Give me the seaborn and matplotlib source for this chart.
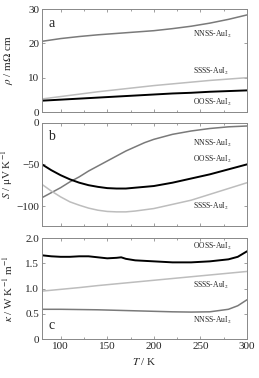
import numpy as np
import pandas as pd
import matplotlib
matplotlib.use("Agg")
import matplotlib.pyplot as plt
import seaborn as sns
from matplotlib.ticker import MultipleLocator

# temperature grid (K)
T = [80, 100, 120, 140, 160, 180, 200, 220, 240, 260, 280, 300]
T_s = [80, 90, 100, 110, 120, 130, 140, 150, 160, 170, 180, 190, 200,
       210, 220, 230, 240, 250, 260, 270, 280, 290, 300]

# a: resistivity (mOhm cm)
rho_nnss = [20.6, 21.4, 22.0, 22.5, 22.9, 23.3, 23.7, 24.3, 25.0, 25.9, 27.0, 28.3]
rho_ssss = [3.8, 4.5, 5.2, 5.9, 6.5, 7.1, 7.7, 8.2, 8.7, 9.2, 9.6, 10.0]
rho_ooss = [3.3, 3.6, 3.9, 4.2, 4.5, 4.8, 5.1, 5.4, 5.6, 5.9, 6.1, 6.3]

# b: thermopower (uV/K)
S_nnss = [-90, -84, -78, -71, -65, -58, -52, -46, -40, -34, -29, -24, -20,
          -17, -14, -12, -10, -8.5, -7, -6, -5, -4.5, -4]
S_ooss = [-50, -57, -63, -68, -72, -75, -77, -78.5, -79, -79, -78, -77, -76,
          -74, -72, -69.5, -67, -64.5, -62, -59, -56, -53, -50]
S_ssss = [-74, -82, -89, -95, -99, -102.5, -105, -106.5, -107, -107, -106, -104.5, -103,
          -100.5, -98, -95.5, -93, -89.5, -86, -82.5, -79, -75.5, -72]

# c: thermal conductivity (W/K/m)
T_k = [80, 90, 100, 110, 120, 130, 140, 150, 160, 165, 170, 180, 200, 220, 240, 260, 280, 290, 300]
k_ooss = [1.66, 1.64, 1.63, 1.63, 1.64, 1.64, 1.62, 1.60, 1.61, 1.62, 1.59, 1.56, 1.54, 1.52, 1.52, 1.54, 1.58, 1.63, 1.74]
k_ssss = [0.95, 0.985, 1.02, 1.06, 1.095, 1.13, 1.165, 1.20, 1.235, 1.27, 1.305, 1.34]
T_kn = [80, 100, 120, 140, 160, 180, 200, 220, 240, 260, 280, 290, 300]
k_nnss = [0.59, 0.59, 0.585, 0.58, 0.57, 0.56, 0.55, 0.54, 0.535, 0.54, 0.59, 0.66, 0.78]

sns.set_style("ticks")
plt.rcParams['font.family'] = ['Liberation Serif', 'DejaVu Serif']
plt.rcParams['mathtext.fontset'] = 'stix'

c_nnss = "#7a7a7a"
c_ssss = "#bdbdbd"
c_ooss = "#000000"

fig = plt.figure(figsize=(2.59, 3.78), dpi=100)
axa = fig.add_axes([0.162, 0.7037, 0.792, 0.2723])
axb = fig.add_axes([0.162, 0.402, 0.792, 0.2735])
axc = fig.add_axes([0.162, 0.103, 0.792, 0.267])

# panel a
sns.lineplot(x=T, y=rho_nnss, color=c_nnss, lw=1.1, ax=axa)
sns.lineplot(x=T, y=rho_ssss, color=c_ssss, lw=1.1, ax=axa)
sns.lineplot(x=T, y=rho_ooss, color=c_ooss, lw=1.4, ax=axa)
axa.set_ylim(0, 30)
axa.set_yticks([0, 10, 20, 30])
axa.set_ylabel(r"$\rho$ / m$\Omega$ cm")
axa.text(242, 22.7, r"NNSS-AuI$_2$", fontsize=5.5, va="center")
axa.text(242, 11.7, r"SSSS-AuI$_2$", fontsize=5.5, va="center")
axa.text(242, 2.9, r"OOSS-AuI$_2$", fontsize=5.5, va="center")
axa.text(0.03, 0.83, "a", transform=axa.transAxes, fontsize=10)

# panel b
sns.lineplot(x=T_s, y=S_nnss, color=c_nnss, lw=1.1, ax=axb)
sns.lineplot(x=T_s, y=S_ssss, color=c_ssss, lw=1.1, ax=axb)
sns.lineplot(x=T_s, y=S_ooss, color=c_ooss, lw=1.4, ax=axb)
axb.set_ylim(-124, 0)
axb.set_yticks([-100, -50, 0])
axb.set_ylabel(r"$S$ / μV K$^{-1}$")
axb.text(242, -25, r"NNSS-AuI$_2$", fontsize=5.5, va="center")
axb.text(242, -44.6, r"OOSS-AuI$_2$", fontsize=5.5, va="center")
axb.text(242, -101, r"SSSS-AuI$_2$", fontsize=5.5, va="center")
axb.text(0.03, 0.83, "b", transform=axb.transAxes, fontsize=10)

# panel c
sns.lineplot(x=T_k, y=k_ooss, color=c_ooss, lw=1.4, ax=axc)
sns.lineplot(x=T, y=k_ssss, color=c_ssss, lw=1.1, ax=axc)
sns.lineplot(x=T_kn, y=k_nnss, color=c_nnss, lw=1.1, ax=axc)
axc.set_ylim(0, 2.0)
axc.set_yticks([0, 0.5, 1.0, 1.5, 2.0])
axc.set_yticklabels(["0", "0.5", "1.0", "1.5", "2.0"])
axc.set_ylabel(r"$\kappa$ / W K$^{-1}$ m$^{-1}$")
axc.set_xlabel(r"$T$ / K")
axc.text(242, 1.83, r"OOSS-AuI$_2$", fontsize=5.5, va="center")
axc.text(242, 1.07, r"SSSS-AuI$_2$", fontsize=5.5, va="center")
axc.text(242, 0.36, r"NNSS-AuI$_2$", fontsize=5.5, va="center")
axc.text(0.03, 0.1, "c", transform=axc.transAxes, fontsize=10)

for ax in (axa, axb, axc):
    ax.set_xlim(80, 300)
    ax.xaxis.set_major_locator(MultipleLocator(50))
    ax.xaxis.set_minor_locator(MultipleLocator(25))
    ax.tick_params(which="both", direction="in", top=True, right=True,
                   labelsize=8, length=2, width=0.5, color="#777777", pad=2)
    ax.tick_params(which="minor", length=1.5)
    for sp in ax.spines.values():
        sp.set_color("#888888")
        sp.set_linewidth(0.7)
    ax.yaxis.label.set_size(8)
    ax.yaxis.set_label_coords(-0.13, 0.5)
    if ax is not axc:
        ax.set_xticklabels([])
        ax.set_xlabel("")
axc.xaxis.label.set_size(8)
axc.set_xticks([100, 150, 200, 250, 300])

fig.savefig("out.png", dpi=100)
